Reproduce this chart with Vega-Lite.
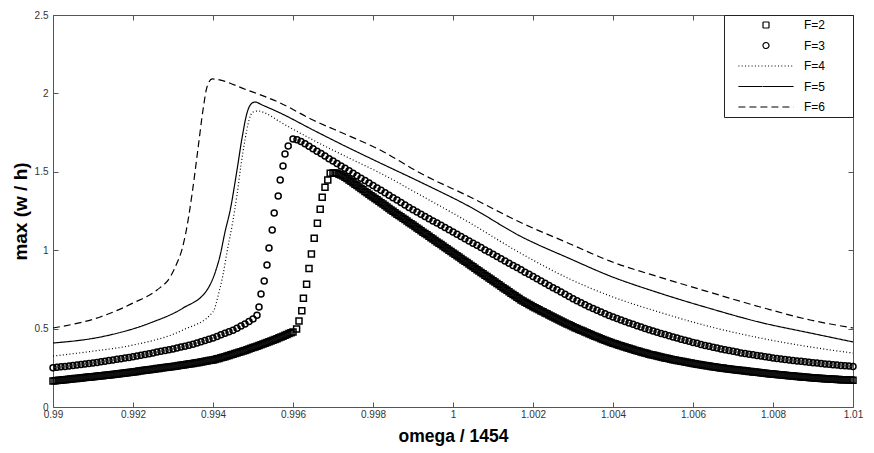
{
  "$schema": "https://vega.github.io/schema/vega-lite/v6.json",
  "width": 800,
  "height": 392,
  "autosize": {"type": "none"},
  "padding": {"left": 53, "top": 15, "right": 21, "bottom": 46},
  "background": "white",
  "config": {
    "view": {"stroke": null},
    "font": "Liberation Sans",
    "axis": {"labelFont": "Liberation Sans", "titleFont": "Liberation Sans", "grid": false, "domainColor": "#555", "tickColor": "#555", "labelColor": "#333", "labelFontSize": 10, "tickSize": -5, "labelFlush": false, "labelOverlap": false, "labelBound": false}
  },
  "datasets": {
    "pts": [
      {"F":"F=2","x":0.99,"y":0.166},{"F":"F=2","x":0.99005,"y":0.167},{"F":"F=2","x":0.9901,"y":0.169},{"F":"F=2","x":0.99015,"y":0.17},{"F":"F=2","x":0.9902,"y":0.171},{"F":"F=2","x":0.99025,"y":0.173},{"F":"F=2","x":0.9903,"y":0.174},{"F":"F=2","x":0.99035,"y":0.176},{"F":"F=2","x":0.9904,"y":0.177},{"F":"F=2","x":0.99045,"y":0.178},
      {"F":"F=2","x":0.9905,"y":0.18},{"F":"F=2","x":0.99055,"y":0.181},{"F":"F=2","x":0.9906,"y":0.182},{"F":"F=2","x":0.99065,"y":0.184},{"F":"F=2","x":0.9907,"y":0.185},{"F":"F=2","x":0.99075,"y":0.187},{"F":"F=2","x":0.9908,"y":0.188},{"F":"F=2","x":0.99085,"y":0.189},{"F":"F=2","x":0.9909,"y":0.191},{"F":"F=2","x":0.99095,"y":0.192},
      {"F":"F=2","x":0.991,"y":0.193},{"F":"F=2","x":0.99105,"y":0.195},{"F":"F=2","x":0.9911,"y":0.196},{"F":"F=2","x":0.99115,"y":0.198},{"F":"F=2","x":0.9912,"y":0.199},{"F":"F=2","x":0.99125,"y":0.2},{"F":"F=2","x":0.9913,"y":0.202},{"F":"F=2","x":0.99135,"y":0.203},{"F":"F=2","x":0.9914,"y":0.204},{"F":"F=2","x":0.99145,"y":0.206},
      {"F":"F=2","x":0.9915,"y":0.207},{"F":"F=2","x":0.99155,"y":0.209},{"F":"F=2","x":0.9916,"y":0.21},{"F":"F=2","x":0.99165,"y":0.212},{"F":"F=2","x":0.9917,"y":0.213},{"F":"F=2","x":0.99175,"y":0.215},{"F":"F=2","x":0.9918,"y":0.217},{"F":"F=2","x":0.99185,"y":0.218},{"F":"F=2","x":0.9919,"y":0.22},{"F":"F=2","x":0.99195,"y":0.222},
      {"F":"F=2","x":0.992,"y":0.224},{"F":"F=2","x":0.99205,"y":0.225},{"F":"F=2","x":0.9921,"y":0.227},{"F":"F=2","x":0.99215,"y":0.229},{"F":"F=2","x":0.9922,"y":0.231},{"F":"F=2","x":0.99225,"y":0.232},{"F":"F=2","x":0.9923,"y":0.234},{"F":"F=2","x":0.99235,"y":0.236},{"F":"F=2","x":0.9924,"y":0.238},{"F":"F=2","x":0.99245,"y":0.239},
      {"F":"F=2","x":0.9925,"y":0.241},{"F":"F=2","x":0.99255,"y":0.243},{"F":"F=2","x":0.9926,"y":0.245},{"F":"F=2","x":0.99265,"y":0.246},{"F":"F=2","x":0.9927,"y":0.248},{"F":"F=2","x":0.99275,"y":0.25},{"F":"F=2","x":0.9928,"y":0.252},{"F":"F=2","x":0.99285,"y":0.253},{"F":"F=2","x":0.9929,"y":0.255},{"F":"F=2","x":0.99295,"y":0.257},
      {"F":"F=2","x":0.993,"y":0.259},{"F":"F=2","x":0.99305,"y":0.26},{"F":"F=2","x":0.9931,"y":0.262},{"F":"F=2","x":0.99315,"y":0.264},{"F":"F=2","x":0.9932,"y":0.266},{"F":"F=2","x":0.99325,"y":0.268},{"F":"F=2","x":0.9933,"y":0.27},{"F":"F=2","x":0.99335,"y":0.272},{"F":"F=2","x":0.9934,"y":0.274},{"F":"F=2","x":0.99345,"y":0.276},
      {"F":"F=2","x":0.9935,"y":0.278},{"F":"F=2","x":0.99355,"y":0.28},{"F":"F=2","x":0.9936,"y":0.282},{"F":"F=2","x":0.99365,"y":0.284},{"F":"F=2","x":0.9937,"y":0.287},{"F":"F=2","x":0.99375,"y":0.289},{"F":"F=2","x":0.9938,"y":0.291},{"F":"F=2","x":0.99385,"y":0.293},{"F":"F=2","x":0.9939,"y":0.296},{"F":"F=2","x":0.99395,"y":0.298},
      {"F":"F=2","x":0.994,"y":0.3},{"F":"F=2","x":0.99405,"y":0.303},{"F":"F=2","x":0.9941,"y":0.307},{"F":"F=2","x":0.99415,"y":0.31},{"F":"F=2","x":0.9942,"y":0.314},{"F":"F=2","x":0.99425,"y":0.317},{"F":"F=2","x":0.9943,"y":0.321},{"F":"F=2","x":0.99435,"y":0.325},{"F":"F=2","x":0.9944,"y":0.329},{"F":"F=2","x":0.99445,"y":0.333},
      {"F":"F=2","x":0.9945,"y":0.337},{"F":"F=2","x":0.99455,"y":0.341},{"F":"F=2","x":0.9946,"y":0.345},{"F":"F=2","x":0.99465,"y":0.349},{"F":"F=2","x":0.9947,"y":0.353},{"F":"F=2","x":0.99475,"y":0.357},{"F":"F=2","x":0.9948,"y":0.361},{"F":"F=2","x":0.99485,"y":0.365},{"F":"F=2","x":0.9949,"y":0.37},{"F":"F=2","x":0.99495,"y":0.374},
      {"F":"F=2","x":0.995,"y":0.379},{"F":"F=2","x":0.99505,"y":0.383},{"F":"F=2","x":0.9951,"y":0.388},{"F":"F=2","x":0.99515,"y":0.392},{"F":"F=2","x":0.9952,"y":0.397},{"F":"F=2","x":0.99525,"y":0.401},{"F":"F=2","x":0.9953,"y":0.406},{"F":"F=2","x":0.99535,"y":0.411},{"F":"F=2","x":0.9954,"y":0.416},{"F":"F=2","x":0.99545,"y":0.421},
      {"F":"F=2","x":0.9955,"y":0.426},{"F":"F=2","x":0.99555,"y":0.431},{"F":"F=2","x":0.9956,"y":0.436},{"F":"F=2","x":0.99565,"y":0.441},{"F":"F=2","x":0.9957,"y":0.447},{"F":"F=2","x":0.99575,"y":0.452},{"F":"F=2","x":0.9958,"y":0.458},{"F":"F=2","x":0.99585,"y":0.463},{"F":"F=2","x":0.9959,"y":0.468},{"F":"F=2","x":0.99595,"y":0.473},
      {"F":"F=2","x":0.996,"y":0.478},
      {"F":"F=2","x":0.99609,"y":0.497},{"F":"F=2","x":0.99615,"y":0.548},{"F":"F=2","x":0.99622,"y":0.614},{"F":"F=2","x":0.99626,"y":0.693},{"F":"F=2","x":0.99634,"y":0.783},{"F":"F=2","x":0.9964,"y":0.883},{"F":"F=2","x":0.99646,"y":0.976},{"F":"F=2","x":0.99653,"y":1.076},{"F":"F=2","x":0.99661,"y":1.172},{"F":"F=2","x":0.99668,"y":1.261},{"F":"F=2","x":0.99673,"y":1.337},{"F":"F=2","x":0.9968,"y":1.401},{"F":"F=2","x":0.99687,"y":1.448},{"F":"F=2","x":0.99693,"y":1.49},
      {"F":"F=2","x":0.997,"y":1.493},{"F":"F=2","x":0.99705,"y":1.492},{"F":"F=2","x":0.9971,"y":1.49},{"F":"F=2","x":0.99715,"y":1.485},{"F":"F=2","x":0.9972,"y":1.48},{"F":"F=2","x":0.99725,"y":1.473},{"F":"F=2","x":0.9973,"y":1.465},{"F":"F=2","x":0.99735,"y":1.457},{"F":"F=2","x":0.9974,"y":1.448},{"F":"F=2","x":0.99745,"y":1.439},
      {"F":"F=2","x":0.9975,"y":1.43},{"F":"F=2","x":0.99755,"y":1.421},{"F":"F=2","x":0.9976,"y":1.412},{"F":"F=2","x":0.99765,"y":1.403},{"F":"F=2","x":0.9977,"y":1.394},{"F":"F=2","x":0.99775,"y":1.385},{"F":"F=2","x":0.9978,"y":1.375},{"F":"F=2","x":0.99785,"y":1.366},{"F":"F=2","x":0.9979,"y":1.357},{"F":"F=2","x":0.99795,"y":1.348},
      {"F":"F=2","x":0.998,"y":1.339},{"F":"F=2","x":0.99805,"y":1.33},{"F":"F=2","x":0.9981,"y":1.321},{"F":"F=2","x":0.99815,"y":1.312},{"F":"F=2","x":0.9982,"y":1.303},{"F":"F=2","x":0.99825,"y":1.294},{"F":"F=2","x":0.9983,"y":1.285},{"F":"F=2","x":0.99835,"y":1.276},{"F":"F=2","x":0.9984,"y":1.266},{"F":"F=2","x":0.99845,"y":1.257},
      {"F":"F=2","x":0.9985,"y":1.248},{"F":"F=2","x":0.99855,"y":1.239},{"F":"F=2","x":0.9986,"y":1.23},{"F":"F=2","x":0.99865,"y":1.222},{"F":"F=2","x":0.9987,"y":1.213},{"F":"F=2","x":0.99875,"y":1.204},{"F":"F=2","x":0.9988,"y":1.195},{"F":"F=2","x":0.99885,"y":1.186},{"F":"F=2","x":0.9989,"y":1.177},{"F":"F=2","x":0.99895,"y":1.169},
      {"F":"F=2","x":0.999,"y":1.16},{"F":"F=2","x":0.99905,"y":1.151},{"F":"F=2","x":0.9991,"y":1.142},{"F":"F=2","x":0.99915,"y":1.133},{"F":"F=2","x":0.9992,"y":1.124},{"F":"F=2","x":0.99925,"y":1.115},{"F":"F=2","x":0.9993,"y":1.106},{"F":"F=2","x":0.99935,"y":1.098},{"F":"F=2","x":0.9994,"y":1.089},{"F":"F=2","x":0.99945,"y":1.08},
      {"F":"F=2","x":0.9995,"y":1.071},{"F":"F=2","x":0.99955,"y":1.062},{"F":"F=2","x":0.9996,"y":1.053},{"F":"F=2","x":0.99965,"y":1.045},{"F":"F=2","x":0.9997,"y":1.036},{"F":"F=2","x":0.99975,"y":1.027},{"F":"F=2","x":0.9998,"y":1.018},{"F":"F=2","x":0.99985,"y":1.009},{"F":"F=2","x":0.9999,"y":1.0},{"F":"F=2","x":0.99995,"y":0.991},
      {"F":"F=2","x":1.0,"y":0.982},{"F":"F=2","x":1.00005,"y":0.974},{"F":"F=2","x":1.0001,"y":0.965},{"F":"F=2","x":1.00015,"y":0.956},{"F":"F=2","x":1.0002,"y":0.947},{"F":"F=2","x":1.00025,"y":0.938},{"F":"F=2","x":1.0003,"y":0.929},{"F":"F=2","x":1.00035,"y":0.921},{"F":"F=2","x":1.0004,"y":0.912},{"F":"F=2","x":1.00045,"y":0.903},
      {"F":"F=2","x":1.0005,"y":0.894},{"F":"F=2","x":1.00055,"y":0.885},{"F":"F=2","x":1.0006,"y":0.876},{"F":"F=2","x":1.00065,"y":0.867},{"F":"F=2","x":1.0007,"y":0.858},{"F":"F=2","x":1.00075,"y":0.85},{"F":"F=2","x":1.0008,"y":0.841},{"F":"F=2","x":1.00085,"y":0.832},{"F":"F=2","x":1.0009,"y":0.823},{"F":"F=2","x":1.00095,"y":0.814},
      {"F":"F=2","x":1.001,"y":0.805},{"F":"F=2","x":1.00105,"y":0.797},{"F":"F=2","x":1.0011,"y":0.788},{"F":"F=2","x":1.00115,"y":0.779},{"F":"F=2","x":1.0012,"y":0.77},{"F":"F=2","x":1.00125,"y":0.761},{"F":"F=2","x":1.0013,"y":0.752},{"F":"F=2","x":1.00135,"y":0.744},{"F":"F=2","x":1.0014,"y":0.735},{"F":"F=2","x":1.00145,"y":0.726},
      {"F":"F=2","x":1.0015,"y":0.717},{"F":"F=2","x":1.00155,"y":0.709},{"F":"F=2","x":1.0016,"y":0.7},{"F":"F=2","x":1.00165,"y":0.692},{"F":"F=2","x":1.0017,"y":0.683},{"F":"F=2","x":1.00175,"y":0.676},{"F":"F=2","x":1.0018,"y":0.668},{"F":"F=2","x":1.00185,"y":0.661},{"F":"F=2","x":1.0019,"y":0.654},{"F":"F=2","x":1.00195,"y":0.647},
      {"F":"F=2","x":1.002,"y":0.64},{"F":"F=2","x":1.00205,"y":0.633},{"F":"F=2","x":1.0021,"y":0.626},{"F":"F=2","x":1.00215,"y":0.62},{"F":"F=2","x":1.0022,"y":0.613},{"F":"F=2","x":1.00225,"y":0.607},{"F":"F=2","x":1.0023,"y":0.6},{"F":"F=2","x":1.00235,"y":0.594},{"F":"F=2","x":1.0024,"y":0.587},{"F":"F=2","x":1.00245,"y":0.581},
      {"F":"F=2","x":1.0025,"y":0.574},{"F":"F=2","x":1.00255,"y":0.568},{"F":"F=2","x":1.0026,"y":0.561},{"F":"F=2","x":1.00265,"y":0.555},{"F":"F=2","x":1.0027,"y":0.548},{"F":"F=2","x":1.00275,"y":0.542},{"F":"F=2","x":1.0028,"y":0.536},{"F":"F=2","x":1.00285,"y":0.53},{"F":"F=2","x":1.0029,"y":0.524},{"F":"F=2","x":1.00295,"y":0.518},
      {"F":"F=2","x":1.003,"y":0.512},{"F":"F=2","x":1.00305,"y":0.506},{"F":"F=2","x":1.0031,"y":0.5},{"F":"F=2","x":1.00315,"y":0.495},{"F":"F=2","x":1.0032,"y":0.489},{"F":"F=2","x":1.00325,"y":0.484},{"F":"F=2","x":1.0033,"y":0.478},{"F":"F=2","x":1.00335,"y":0.473},{"F":"F=2","x":1.0034,"y":0.467},{"F":"F=2","x":1.00345,"y":0.462},
      {"F":"F=2","x":1.0035,"y":0.456},{"F":"F=2","x":1.00355,"y":0.451},{"F":"F=2","x":1.0036,"y":0.446},{"F":"F=2","x":1.00365,"y":0.441},{"F":"F=2","x":1.0037,"y":0.436},{"F":"F=2","x":1.00375,"y":0.431},{"F":"F=2","x":1.0038,"y":0.426},{"F":"F=2","x":1.00385,"y":0.421},{"F":"F=2","x":1.0039,"y":0.416},{"F":"F=2","x":1.00395,"y":0.412},
      {"F":"F=2","x":1.004,"y":0.407},{"F":"F=2","x":1.00405,"y":0.403},{"F":"F=2","x":1.0041,"y":0.398},{"F":"F=2","x":1.00415,"y":0.394},{"F":"F=2","x":1.0042,"y":0.39},{"F":"F=2","x":1.00425,"y":0.386},{"F":"F=2","x":1.0043,"y":0.382},{"F":"F=2","x":1.00435,"y":0.378},{"F":"F=2","x":1.0044,"y":0.374},{"F":"F=2","x":1.00445,"y":0.37},
      {"F":"F=2","x":1.0045,"y":0.366},{"F":"F=2","x":1.00455,"y":0.362},{"F":"F=2","x":1.0046,"y":0.358},{"F":"F=2","x":1.00465,"y":0.355},{"F":"F=2","x":1.0047,"y":0.351},{"F":"F=2","x":1.00475,"y":0.348},{"F":"F=2","x":1.0048,"y":0.344},{"F":"F=2","x":1.00485,"y":0.341},{"F":"F=2","x":1.0049,"y":0.337},{"F":"F=2","x":1.00495,"y":0.334},
      {"F":"F=2","x":1.005,"y":0.331},{"F":"F=2","x":1.00505,"y":0.328},{"F":"F=2","x":1.0051,"y":0.325},{"F":"F=2","x":1.00515,"y":0.322},{"F":"F=2","x":1.0052,"y":0.319},{"F":"F=2","x":1.00525,"y":0.316},{"F":"F=2","x":1.0053,"y":0.313},{"F":"F=2","x":1.00535,"y":0.311},{"F":"F=2","x":1.0054,"y":0.308},{"F":"F=2","x":1.00545,"y":0.305},
      {"F":"F=2","x":1.0055,"y":0.302},{"F":"F=2","x":1.00555,"y":0.3},{"F":"F=2","x":1.0056,"y":0.297},{"F":"F=2","x":1.00565,"y":0.295},{"F":"F=2","x":1.0057,"y":0.292},{"F":"F=2","x":1.00575,"y":0.29},{"F":"F=2","x":1.0058,"y":0.287},{"F":"F=2","x":1.00585,"y":0.285},{"F":"F=2","x":1.0059,"y":0.282},{"F":"F=2","x":1.00595,"y":0.28},
      {"F":"F=2","x":1.006,"y":0.278},{"F":"F=2","x":1.00605,"y":0.276},{"F":"F=2","x":1.0061,"y":0.273},{"F":"F=2","x":1.00615,"y":0.271},{"F":"F=2","x":1.0062,"y":0.269},{"F":"F=2","x":1.00625,"y":0.267},{"F":"F=2","x":1.0063,"y":0.265},{"F":"F=2","x":1.00635,"y":0.263},{"F":"F=2","x":1.0064,"y":0.261},{"F":"F=2","x":1.00645,"y":0.259},
      {"F":"F=2","x":1.0065,"y":0.257},{"F":"F=2","x":1.00655,"y":0.255},{"F":"F=2","x":1.0066,"y":0.253},{"F":"F=2","x":1.00665,"y":0.251},{"F":"F=2","x":1.0067,"y":0.249},{"F":"F=2","x":1.00675,"y":0.248},{"F":"F=2","x":1.0068,"y":0.246},{"F":"F=2","x":1.00685,"y":0.244},{"F":"F=2","x":1.0069,"y":0.242},{"F":"F=2","x":1.00695,"y":0.241},
      {"F":"F=2","x":1.007,"y":0.239},{"F":"F=2","x":1.00705,"y":0.238},{"F":"F=2","x":1.0071,"y":0.236},{"F":"F=2","x":1.00715,"y":0.235},{"F":"F=2","x":1.0072,"y":0.233},{"F":"F=2","x":1.00725,"y":0.232},{"F":"F=2","x":1.0073,"y":0.23},{"F":"F=2","x":1.00735,"y":0.229},{"F":"F=2","x":1.0074,"y":0.227},{"F":"F=2","x":1.00745,"y":0.226},
      {"F":"F=2","x":1.0075,"y":0.224},{"F":"F=2","x":1.00755,"y":0.223},{"F":"F=2","x":1.0076,"y":0.221},{"F":"F=2","x":1.00765,"y":0.22},{"F":"F=2","x":1.0077,"y":0.218},{"F":"F=2","x":1.00775,"y":0.217},{"F":"F=2","x":1.0078,"y":0.215},{"F":"F=2","x":1.00785,"y":0.214},{"F":"F=2","x":1.0079,"y":0.212},{"F":"F=2","x":1.00795,"y":0.211},
      {"F":"F=2","x":1.008,"y":0.21},{"F":"F=2","x":1.00805,"y":0.209},{"F":"F=2","x":1.0081,"y":0.207},{"F":"F=2","x":1.00815,"y":0.206},{"F":"F=2","x":1.0082,"y":0.205},{"F":"F=2","x":1.00825,"y":0.204},{"F":"F=2","x":1.0083,"y":0.202},{"F":"F=2","x":1.00835,"y":0.201},{"F":"F=2","x":1.0084,"y":0.2},{"F":"F=2","x":1.00845,"y":0.199},
      {"F":"F=2","x":1.0085,"y":0.197},{"F":"F=2","x":1.00855,"y":0.196},{"F":"F=2","x":1.0086,"y":0.195},{"F":"F=2","x":1.00865,"y":0.194},{"F":"F=2","x":1.0087,"y":0.192},{"F":"F=2","x":1.00875,"y":0.191},{"F":"F=2","x":1.0088,"y":0.19},{"F":"F=2","x":1.00885,"y":0.189},{"F":"F=2","x":1.0089,"y":0.188},{"F":"F=2","x":1.00895,"y":0.187},
      {"F":"F=2","x":1.009,"y":0.186},{"F":"F=2","x":1.00905,"y":0.185},{"F":"F=2","x":1.0091,"y":0.184},{"F":"F=2","x":1.00915,"y":0.183},{"F":"F=2","x":1.0092,"y":0.182},{"F":"F=2","x":1.00925,"y":0.181},{"F":"F=2","x":1.0093,"y":0.18},{"F":"F=2","x":1.00935,"y":0.18},{"F":"F=2","x":1.0094,"y":0.179},{"F":"F=2","x":1.00945,"y":0.178},
      {"F":"F=2","x":1.0095,"y":0.177},{"F":"F=2","x":1.00955,"y":0.177},{"F":"F=2","x":1.0096,"y":0.176},{"F":"F=2","x":1.00965,"y":0.175},{"F":"F=2","x":1.0097,"y":0.174},{"F":"F=2","x":1.00975,"y":0.174},{"F":"F=2","x":1.0098,"y":0.173},{"F":"F=2","x":1.00985,"y":0.173},{"F":"F=2","x":1.0099,"y":0.172},{"F":"F=2","x":1.00995,"y":0.172},
      {"F":"F=2","x":1.01,"y":0.171},

      {"F":"F=3","x":0.9900,"y":0.250},{"F":"F=3","x":0.9901,"y":0.253},{"F":"F=3","x":0.9902,"y":0.256},{"F":"F=3","x":0.9903,"y":0.259},{"F":"F=3","x":0.9904,"y":0.262},{"F":"F=3","x":0.9905,"y":0.265},{"F":"F=3","x":0.9906,"y":0.268},{"F":"F=3","x":0.9907,"y":0.271},{"F":"F=3","x":0.9908,"y":0.274},{"F":"F=3","x":0.9909,"y":0.277},
      {"F":"F=3","x":0.9910,"y":0.280},{"F":"F=3","x":0.9911,"y":0.284},{"F":"F=3","x":0.9912,"y":0.288},{"F":"F=3","x":0.9913,"y":0.292},{"F":"F=3","x":0.9914,"y":0.296},{"F":"F=3","x":0.9915,"y":0.300},{"F":"F=3","x":0.9916,"y":0.304},{"F":"F=3","x":0.9917,"y":0.308},{"F":"F=3","x":0.9918,"y":0.312},{"F":"F=3","x":0.9919,"y":0.316},
      {"F":"F=3","x":0.9920,"y":0.320},{"F":"F=3","x":0.9921,"y":0.325},{"F":"F=3","x":0.9922,"y":0.330},{"F":"F=3","x":0.9923,"y":0.335},{"F":"F=3","x":0.9924,"y":0.340},{"F":"F=3","x":0.9925,"y":0.345},{"F":"F=3","x":0.9926,"y":0.350},{"F":"F=3","x":0.9927,"y":0.355},{"F":"F=3","x":0.9928,"y":0.360},{"F":"F=3","x":0.9929,"y":0.365},
      {"F":"F=3","x":0.9930,"y":0.370},{"F":"F=3","x":0.9931,"y":0.376},{"F":"F=3","x":0.9932,"y":0.382},{"F":"F=3","x":0.9933,"y":0.388},{"F":"F=3","x":0.9934,"y":0.394},{"F":"F=3","x":0.9935,"y":0.400},{"F":"F=3","x":0.9936,"y":0.408},{"F":"F=3","x":0.9937,"y":0.416},{"F":"F=3","x":0.9938,"y":0.424},{"F":"F=3","x":0.9939,"y":0.432},
      {"F":"F=3","x":0.9940,"y":0.440},{"F":"F=3","x":0.9941,"y":0.450},{"F":"F=3","x":0.9942,"y":0.460},{"F":"F=3","x":0.9943,"y":0.470},{"F":"F=3","x":0.9944,"y":0.480},{"F":"F=3","x":0.9945,"y":0.490},{"F":"F=3","x":0.9946,"y":0.503},{"F":"F=3","x":0.9947,"y":0.516},{"F":"F=3","x":0.9948,"y":0.530},{"F":"F=3","x":0.9949,"y":0.545},
      {"F":"F=3","x":0.9950,"y":0.562},{"F":"F=3","x":0.9951,"y":0.585},
      {"F":"F=3","x":0.99515,"y":0.638},{"F":"F=3","x":0.9952,"y":0.721},{"F":"F=3","x":0.99528,"y":0.804},{"F":"F=3","x":0.99535,"y":0.906},{"F":"F=3","x":0.9954,"y":1.014},{"F":"F=3","x":0.99548,"y":1.129},{"F":"F=3","x":0.99553,"y":1.237},{"F":"F=3","x":0.99563,"y":1.346},{"F":"F=3","x":0.99568,"y":1.448},{"F":"F=3","x":0.99575,"y":1.537},{"F":"F=3","x":0.9958,"y":1.614},{"F":"F=3","x":0.99588,"y":1.665},
      {"F":"F=3","x":0.9960,"y":1.709},{"F":"F=3","x":0.9961,"y":1.705},{"F":"F=3","x":0.9962,"y":1.694},{"F":"F=3","x":0.9963,"y":1.679},{"F":"F=3","x":0.9964,"y":1.663},{"F":"F=3","x":0.9965,"y":1.647},{"F":"F=3","x":0.9966,"y":1.631},{"F":"F=3","x":0.9967,"y":1.616},{"F":"F=3","x":0.9968,"y":1.600},{"F":"F=3","x":0.9969,"y":1.584},
      {"F":"F=3","x":0.9970,"y":1.569},{"F":"F=3","x":0.9971,"y":1.553},{"F":"F=3","x":0.9972,"y":1.537},{"F":"F=3","x":0.9973,"y":1.522},{"F":"F=3","x":0.9974,"y":1.506},{"F":"F=3","x":0.9975,"y":1.490},{"F":"F=3","x":0.9976,"y":1.475},{"F":"F=3","x":0.9977,"y":1.459},{"F":"F=3","x":0.9978,"y":1.444},{"F":"F=3","x":0.9979,"y":1.428},
      {"F":"F=3","x":0.9980,"y":1.413},{"F":"F=3","x":0.9981,"y":1.397},{"F":"F=3","x":0.9982,"y":1.382},{"F":"F=3","x":0.9983,"y":1.366},{"F":"F=3","x":0.9984,"y":1.351},{"F":"F=3","x":0.9985,"y":1.335},{"F":"F=3","x":0.9986,"y":1.320},{"F":"F=3","x":0.9987,"y":1.304},{"F":"F=3","x":0.9988,"y":1.289},{"F":"F=3","x":0.9989,"y":1.273},
      {"F":"F=3","x":0.9990,"y":1.258},{"F":"F=3","x":0.9991,"y":1.244},{"F":"F=3","x":0.9992,"y":1.230},{"F":"F=3","x":0.9993,"y":1.215},{"F":"F=3","x":0.9994,"y":1.201},{"F":"F=3","x":0.9995,"y":1.187},{"F":"F=3","x":0.9996,"y":1.173},{"F":"F=3","x":0.9997,"y":1.159},{"F":"F=3","x":0.9998,"y":1.144},{"F":"F=3","x":0.9999,"y":1.130},
      {"F":"F=3","x":1.0000,"y":1.116},{"F":"F=3","x":1.0001,"y":1.102},{"F":"F=3","x":1.0002,"y":1.088},{"F":"F=3","x":1.0003,"y":1.073},{"F":"F=3","x":1.0004,"y":1.059},{"F":"F=3","x":1.0005,"y":1.045},{"F":"F=3","x":1.0006,"y":1.031},{"F":"F=3","x":1.0007,"y":1.017},{"F":"F=3","x":1.0008,"y":1.002},{"F":"F=3","x":1.0009,"y":0.988},
      {"F":"F=3","x":1.0010,"y":0.974},{"F":"F=3","x":1.0011,"y":0.960},{"F":"F=3","x":1.0012,"y":0.946},{"F":"F=3","x":1.0013,"y":0.931},{"F":"F=3","x":1.0014,"y":0.917},{"F":"F=3","x":1.0015,"y":0.903},{"F":"F=3","x":1.0016,"y":0.889},{"F":"F=3","x":1.0017,"y":0.875},{"F":"F=3","x":1.0018,"y":0.860},{"F":"F=3","x":1.0019,"y":0.846},
      {"F":"F=3","x":1.0020,"y":0.832},{"F":"F=3","x":1.0021,"y":0.818},{"F":"F=3","x":1.0022,"y":0.804},{"F":"F=3","x":1.0023,"y":0.789},{"F":"F=3","x":1.0024,"y":0.775},{"F":"F=3","x":1.0025,"y":0.761},{"F":"F=3","x":1.0026,"y":0.747},{"F":"F=3","x":1.0027,"y":0.733},{"F":"F=3","x":1.0028,"y":0.719},{"F":"F=3","x":1.0029,"y":0.705},
      {"F":"F=3","x":1.0030,"y":0.691},{"F":"F=3","x":1.0031,"y":0.678},{"F":"F=3","x":1.0032,"y":0.665},{"F":"F=3","x":1.0033,"y":0.652},{"F":"F=3","x":1.0034,"y":0.640},{"F":"F=3","x":1.0035,"y":0.628},{"F":"F=3","x":1.0036,"y":0.617},{"F":"F=3","x":1.0037,"y":0.606},{"F":"F=3","x":1.0038,"y":0.595},{"F":"F=3","x":1.0039,"y":0.584},
      {"F":"F=3","x":1.0040,"y":0.574},{"F":"F=3","x":1.0041,"y":0.564},{"F":"F=3","x":1.0042,"y":0.555},{"F":"F=3","x":1.0043,"y":0.545},{"F":"F=3","x":1.0044,"y":0.536},{"F":"F=3","x":1.0045,"y":0.527},{"F":"F=3","x":1.0046,"y":0.518},{"F":"F=3","x":1.0047,"y":0.510},{"F":"F=3","x":1.0048,"y":0.501},{"F":"F=3","x":1.0049,"y":0.493},
      {"F":"F=3","x":1.0050,"y":0.485},{"F":"F=3","x":1.0051,"y":0.477},{"F":"F=3","x":1.0052,"y":0.469},{"F":"F=3","x":1.0053,"y":0.462},{"F":"F=3","x":1.0054,"y":0.454},{"F":"F=3","x":1.0055,"y":0.447},{"F":"F=3","x":1.0056,"y":0.440},{"F":"F=3","x":1.0057,"y":0.432},{"F":"F=3","x":1.0058,"y":0.425},{"F":"F=3","x":1.0059,"y":0.419},
      {"F":"F=3","x":1.0060,"y":0.412},{"F":"F=3","x":1.0061,"y":0.406},{"F":"F=3","x":1.0062,"y":0.399},{"F":"F=3","x":1.0063,"y":0.393},{"F":"F=3","x":1.0064,"y":0.387},{"F":"F=3","x":1.0065,"y":0.381},{"F":"F=3","x":1.0066,"y":0.376},{"F":"F=3","x":1.0067,"y":0.370},{"F":"F=3","x":1.0068,"y":0.365},{"F":"F=3","x":1.0069,"y":0.360},
      {"F":"F=3","x":1.0070,"y":0.355},{"F":"F=3","x":1.0071,"y":0.350},{"F":"F=3","x":1.0072,"y":0.345},{"F":"F=3","x":1.0073,"y":0.341},{"F":"F=3","x":1.0074,"y":0.337},{"F":"F=3","x":1.0075,"y":0.333},{"F":"F=3","x":1.0076,"y":0.329},{"F":"F=3","x":1.0077,"y":0.325},{"F":"F=3","x":1.0078,"y":0.321},{"F":"F=3","x":1.0079,"y":0.317},
      {"F":"F=3","x":1.0080,"y":0.313},{"F":"F=3","x":1.0081,"y":0.310},{"F":"F=3","x":1.0082,"y":0.306},{"F":"F=3","x":1.0083,"y":0.303},{"F":"F=3","x":1.0084,"y":0.300},{"F":"F=3","x":1.0085,"y":0.297},{"F":"F=3","x":1.0086,"y":0.294},{"F":"F=3","x":1.0087,"y":0.291},{"F":"F=3","x":1.0088,"y":0.288},{"F":"F=3","x":1.0089,"y":0.285},
      {"F":"F=3","x":1.0090,"y":0.282},{"F":"F=3","x":1.0091,"y":0.280},{"F":"F=3","x":1.0092,"y":0.277},{"F":"F=3","x":1.0093,"y":0.275},{"F":"F=3","x":1.0094,"y":0.272},{"F":"F=3","x":1.0095,"y":0.270},{"F":"F=3","x":1.0096,"y":0.268},{"F":"F=3","x":1.0097,"y":0.265},{"F":"F=3","x":1.0098,"y":0.263},{"F":"F=3","x":1.0099,"y":0.261},
      {"F":"F=3","x":1.0100,"y":0.258}
    ],
    "lns": [
      {"F":"F=4","x":0.9900,"y":0.325},{"F":"F=4","x":0.9910,"y":0.356},{"F":"F=4","x":0.9920,"y":0.395},{"F":"F=4","x":0.99325,"y":0.491},{"F":"F=4","x":0.9940,"y":0.606},{"F":"F=4","x":0.99415,"y":0.733},{"F":"F=4","x":0.99425,"y":0.842},{"F":"F=4","x":0.99435,"y":0.988},{"F":"F=4","x":0.99448,"y":1.161},{"F":"F=4","x":0.9946,"y":1.352},{"F":"F=4","x":0.9947,"y":1.543},{"F":"F=4","x":0.9948,"y":1.703},{"F":"F=4","x":0.9949,"y":1.830},{"F":"F=4","x":0.9950,"y":1.881},{"F":"F=4","x":0.99513,"y":1.888},{"F":"F=4","x":0.9953,"y":1.875},{"F":"F=4","x":0.99568,"y":1.818},{"F":"F=4","x":0.9965,"y":1.703},{"F":"F=4","x":0.99735,"y":1.594},{"F":"F=4","x":0.99818,"y":1.492},{"F":"F=4","x":0.99918,"y":1.352},{"F":"F=4","x":1.00043,"y":1.173},{"F":"F=4","x":1.00168,"y":0.982},{"F":"F=4","x":1.00293,"y":0.815},{"F":"F=4","x":1.00393,"y":0.708},{"F":"F=4","x":1.00518,"y":0.603},{"F":"F=4","x":1.00643,"y":0.512},{"F":"F=4","x":1.00768,"y":0.440},{"F":"F=4","x":1.00893,"y":0.383},{"F":"F=4","x":1.0100,"y":0.344},
      {"F":"F=5","x":0.9900,"y":0.408},{"F":"F=5","x":0.99118,"y":0.446},{"F":"F=5","x":0.99243,"y":0.536},{"F":"F=5","x":0.99325,"y":0.631},{"F":"F=5","x":0.99385,"y":0.746},{"F":"F=5","x":0.99405,"y":0.855},{"F":"F=5","x":0.99418,"y":0.969},{"F":"F=5","x":0.9943,"y":1.116},{"F":"F=5","x":0.99443,"y":1.256},{"F":"F=5","x":0.9946,"y":1.511},{"F":"F=5","x":0.99473,"y":1.722},{"F":"F=5","x":0.99485,"y":1.875},{"F":"F=5","x":0.99495,"y":1.932},{"F":"F=5","x":0.99505,"y":1.945},{"F":"F=5","x":0.99523,"y":1.926},{"F":"F=5","x":0.99568,"y":1.875},{"F":"F=5","x":0.9965,"y":1.767},{"F":"F=5","x":0.99735,"y":1.658},{"F":"F=5","x":0.99818,"y":1.556},{"F":"F=5","x":0.99918,"y":1.435},{"F":"F=5","x":1.00043,"y":1.276},{"F":"F=5","x":1.00168,"y":1.090},{"F":"F=5","x":1.00293,"y":0.945},{"F":"F=5","x":1.00393,"y":0.835},{"F":"F=5","x":1.00518,"y":0.725},{"F":"F=5","x":1.00643,"y":0.628},{"F":"F=5","x":1.00768,"y":0.540},{"F":"F=5","x":1.00893,"y":0.472},{"F":"F=5","x":1.0100,"y":0.415},
      {"F":"F=6","x":0.9900,"y":0.504},{"F":"F=6","x":0.99118,"y":0.574},{"F":"F=6","x":0.9920,"y":0.663},{"F":"F=6","x":0.9926,"y":0.746},{"F":"F=6","x":0.99293,"y":0.829},{"F":"F=6","x":0.9931,"y":0.918},{"F":"F=6","x":0.99322,"y":1.001},{"F":"F=6","x":0.99332,"y":1.110},{"F":"F=6","x":0.99348,"y":1.365},{"F":"F=6","x":0.99363,"y":1.658},{"F":"F=6","x":0.99375,"y":1.894},{"F":"F=6","x":0.99385,"y":2.041},{"F":"F=6","x":0.99398,"y":2.092},{"F":"F=6","x":0.99485,"y":2.022},{"F":"F=6","x":0.99568,"y":1.939},{"F":"F=6","x":0.9965,"y":1.830},{"F":"F=6","x":0.99735,"y":1.735},{"F":"F=6","x":0.99818,"y":1.639},{"F":"F=6","x":0.99918,"y":1.492},{"F":"F=6","x":1.00043,"y":1.339},{"F":"F=6","x":1.00168,"y":1.178},{"F":"F=6","x":1.00293,"y":1.040},{"F":"F=6","x":1.00393,"y":0.930},{"F":"F=6","x":1.00518,"y":0.827},{"F":"F=6","x":1.00643,"y":0.731},{"F":"F=6","x":1.00768,"y":0.638},{"F":"F=6","x":1.00893,"y":0.555},{"F":"F=6","x":1.0100,"y":0.504}
    ]
  },
  "layer": [
    {
      "data": {"name": "pts"},
      "mark": {"type": "point", "filled": false, "stroke": "black", "strokeWidth": 1.5, "size": 36, "opacity": 1},
      "encoding": {
        "x": {"field": "x", "type": "quantitative", "scale": {"domain": [0.99, 1.01], "nice": false, "zero": false},
              "axis": {"orient": "bottom", "values": [0.99, 0.992, 0.994, 0.996, 0.998, 1, 1.002, 1.004, 1.006, 1.008, 1.01], "format": "~g", "title": "omega / 1454", "titleFontSize": 17.5, "titleFontWeight": "bold", "titleColor": "black", "titlePadding": 8, "labelPadding": 7}},
        "y": {"field": "y", "type": "quantitative", "scale": {"domain": [0, 2.5], "nice": false, "zero": false},
              "axis": {"orient": "left", "values": [0, 0.5, 1, 1.5, 2, 2.5], "format": "~g", "title": "max (w / h)", "titleFontSize": 19, "titleFontWeight": "bold", "titleColor": "black", "titlePadding": 4, "labelPadding": 10}},
        "shape": {"field": "F", "type": "nominal",
                  "scale": {"domain": ["F=2", "F=3", "F=4", "F=5", "F=6"], "range": ["square", "circle", "M-9.2,0H9.2", "M-9.2,0H9.2", "M-9.2,0H9.2"]},
                  "legend": {"title": null, "orient": "top-right", "offset": 0, "padding": 4, "strokeColor": "#222", "fillColor": "white", "symbolSize": 36, "symbolStrokeWidth": 1.2, "symbolOffset": 32, "labelOffset": 32, "rowPadding": 8.5, "labelFontSize": 12, "labelColor": "black", "labelFont": "Liberation Sans", "labelExpr": "datum.label + '       \u200b'",
                             "encode": {"symbols": {"update": {"stroke": {"value": "black"}, "fill": {"value": "transparent"}, "strokeWidth": {"value": 1.2}}}}}}
      }
    },
    {
      "data": {"name": "lns"},
      "mark": {"type": "line", "stroke": "black", "strokeWidth": 1.2, "interpolate": "monotone"},
      "encoding": {
        "x": {"field": "x", "type": "quantitative", "scale": {"domain": [0.99, 1.01], "nice": false, "zero": false},
              "axis": {"orient": "top", "values": [0.99, 0.992, 0.994, 0.996, 0.998, 1, 1.002, 1.004, 1.006, 1.008, 1.01], "labels": false, "title": null}},
        "y": {"field": "y", "type": "quantitative", "scale": {"domain": [0, 2.5], "nice": false, "zero": false},
              "axis": {"orient": "right", "values": [0, 0.5, 1, 1.5, 2, 2.5], "labels": false, "title": null}},
        "strokeDash": {"field": "F", "type": "nominal",
                       "scale": {"domain": ["F=2", "F=3", "F=4", "F=5", "F=6"], "range": [[1, 0], [1, 0], [1, 2.3], [1, 0], [7, 4]]},
                       "legend": {"title": null, "orient": "top-right", "offset": 0, "padding": 4, "strokeColor": "#222", "fillColor": "white", "symbolSize": 36, "symbolStrokeWidth": 1.2, "symbolOffset": 32, "labelOffset": 32, "rowPadding": 8.5, "labelFontSize": 12, "labelColor": "black", "labelFont": "Liberation Sans", "labelExpr": "datum.label + '       \u200b'"}}
      }
    }
  ],
  "resolve": {"axis": {"x": "independent", "y": "independent"}}
}
